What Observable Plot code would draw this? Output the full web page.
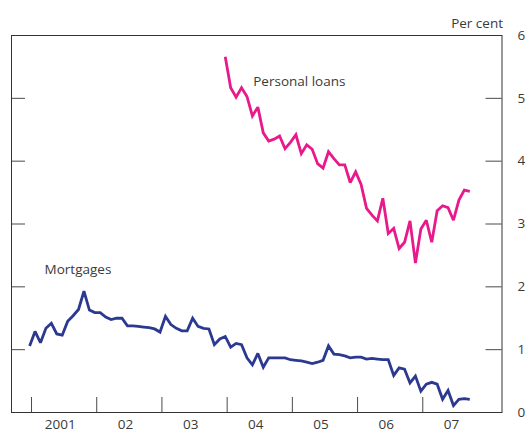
<!DOCTYPE html>
<html><head><meta charset="utf-8">
<script src="https://cdn.jsdelivr.net/npm/d3@7"></script>
<script src="https://cdn.jsdelivr.net/npm/@observablehq/plot@0.6"></script>
<style>
  html,body{margin:0;padding:0;background:#fff}
  #chart{position:absolute;left:0;top:0}
</style>
</head><body><div id="chart"></div>
<script>
// Monthly series (per cent). Mortgages start Dec 2000, personal loans start Dec 2003.
const mortgagesStart = [2000, 11];
const mortgages = [
  1.06,
  1.29,1.11,1.34,1.42,1.25,1.23,1.45,1.54,1.64,1.93,1.63,1.59,
  1.59,1.52,1.48,1.50,1.50,1.38,1.38,1.37,1.36,1.35,1.33,1.28,
  1.53,1.40,1.34,1.30,1.30,1.50,1.37,1.34,1.33,1.08,1.17,1.21,
  1.04,1.10,1.08,0.87,0.76,0.94,0.72,0.87,0.87,0.87,0.87,0.84,
  0.83,0.82,0.80,0.78,0.80,0.83,1.06,0.93,0.92,0.90,0.87,0.88,
  0.88,0.85,0.86,0.85,0.84,0.84,0.59,0.71,0.69,0.47,0.58,0.34,
  0.45,0.48,0.45,0.21,0.35,0.11,0.21,0.22,0.21
];
const loansStart = [2003, 11];
const personalLoans = [
  5.66,
  5.17,5.02,5.17,5.03,4.72,4.86,4.45,4.32,4.35,4.40,4.20,4.30,
  4.42,4.12,4.26,4.19,3.96,3.89,4.15,4.04,3.94,3.94,3.66,3.83,
  3.63,3.25,3.14,3.05,3.41,2.85,2.93,2.61,2.71,3.05,2.38,2.92,
  3.06,2.71,3.21,3.29,3.26,3.06,3.38,3.54,3.52
];
const yTicks = [0, 1, 2, 3, 4, 5, 6];
const yearTicks = [2001, 2002, 2003, 2004, 2005, 2006, 2007];
const yearLabels = ["2001", "02", "03", "04", "05", "06", "07"];
const seriesNames = ["Mortgages", "Personal loans"];
const seriesColors = ["#2b3990", "#e8198b"];
const labelX = [2001.2, 2004.4];
const labelY = [2.27, 5.27];
const unitLabel = "Per cent";

const xDomain = [2000.693, 2008.215];
const toRows = (start, values, name) =>
  values.map((v, i) => ({t: start[0] + (start[1] + i + 0.65) / 12, v, name}));
const rows = [
  ...toRows(mortgagesStart, mortgages, seriesNames[0]),
  ...toRows(loansStart, personalLoans, seriesNames[1])
];
const labels = seriesNames.map((n, i) => ({name: n, x: labelX[i], y: labelY[i]}));
const textColor = "#3a3a3a";
const tickColor = "#4a4a4a";

const chart = Plot.plot({
  width: 532,
  height: 432,
  marginLeft: 11,
  marginRight: 30.5,
  marginTop: 35,
  marginBottom: 20,
  x: {domain: xDomain, axis: null},
  y: {domain: [0, 6], axis: null},
  color: {domain: seriesNames, range: seriesColors},
  style: {fontFamily: "'Open Sans', sans-serif", fontSize: "13.5px", color: textColor, background: "white"},
  marks: [
    Plot.ruleX(yearTicks, {x: d => d, y1: 0, y2: 0, insetTop: -15, stroke: tickColor, strokeWidth: 1}),
    Plot.ruleY(yTicks.slice(1, -1), {y: d => d, x1: xDomain[0], x2: xDomain[0], insetRight: -14, stroke: tickColor, strokeWidth: 1}),
    Plot.ruleY(yTicks.slice(1, -1), {y: d => d, x1: xDomain[1], x2: xDomain[1], insetLeft: -16, stroke: tickColor, strokeWidth: 1}),
    Plot.frame({stroke: "#333", strokeWidth: 1}),
    Plot.line(rows, {x: "t", y: "v", z: "name", stroke: "name", strokeWidth: 2.8, strokeLinejoin: "miter", strokeMiterlimit: 2.5, strokeLinecap: "butt"}),
    Plot.axisY(yTicks, {anchor: "right", tickSize: 0, tickPadding: 15.5, tickFormat: d => String(d), textAnchor: "start", fill: textColor, fontSize: 13.5}),
    Plot.text(yearTicks, {x: d => d + 0.44, y: 0, dy: 12, text: (d, i) => yearLabels[i], fill: textColor, fontSize: 13.5}),
    Plot.text(labels, {x: "x", y: "y", text: "name", textAnchor: "start", fill: textColor, fontSize: 13.5}),
    Plot.text([unitLabel], {frameAnchor: "top-right", dy: -17, dx: 1, textAnchor: "end", text: d => d, fill: textColor, fontSize: 13.5})
  ]
});
document.getElementById("chart").append(chart);
</script>
</body></html>
